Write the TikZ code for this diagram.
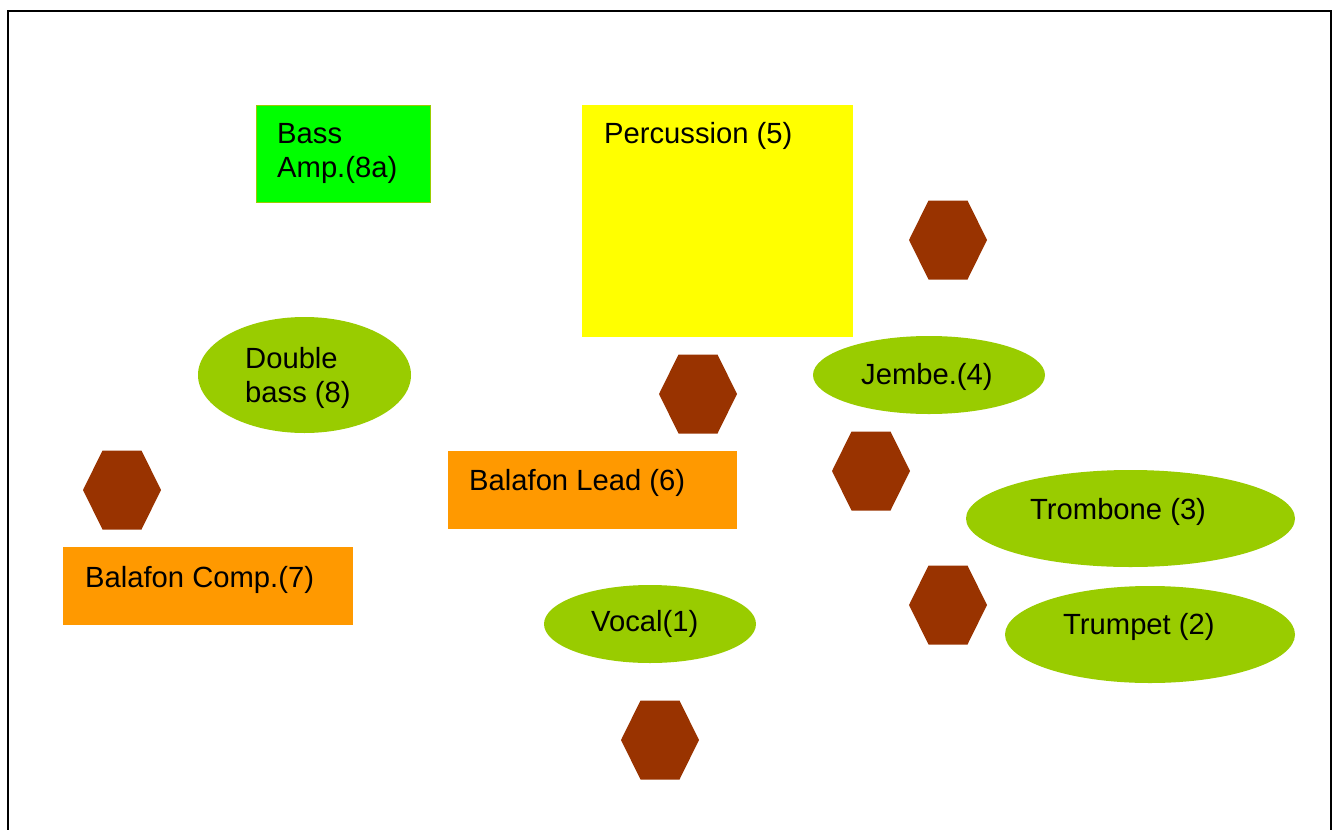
\documentclass[tikz,border=0pt]{standalone}
\usepackage{fontspec}
\setmainfont{Liberation Sans}
\usetikzlibrary{shapes.geometric}
\definecolor{hexbrown}{HTML}{993300}
\definecolor{olivegreen}{HTML}{99CC00}
\definecolor{brightgreen}{HTML}{00FF00}
\definecolor{orangefill}{HTML}{FF9900}
\definecolor{yellowfill}{HTML}{FFFF00}
\tikzset{
  box/.style={rectangle, inner sep=0pt, draw=none, anchor=north west},
  oval/.style={ellipse, inner sep=0pt, draw=none, fill=olivegreen},
  lbl/.style={anchor=base west, inner sep=0pt, font=\fontsize{29.2}{34}\selectfont, text=black},
  pics/hexa/.style={code={\fill[hexbrown] (-39,0) -- (-19.5,-39.5) -- (19.5,-39.5) -- (39,0) -- (19.5,39.5) -- (-19.5,39.5) -- cycle;}}
}
\begin{document}
\begin{tikzpicture}[x=1pt,y=-1pt]
\useasboundingbox (0,0) rectangle (1339,830);
\fill[white] (0,0) rectangle (1339,830);
\begin{scope}
\clip (0,0) rectangle (1339,830);
\draw[line width=2pt] (8,11) rectangle (1331,860);
\end{scope}

% rectangles
\node[box, fill=brightgreen, draw=olivegreen, line width=1pt, minimum width=174pt, minimum height=97pt] (amp) at (256,105) {};
\node[box, fill=yellowfill, minimum width=271pt, minimum height=232pt] (perc) at (582,105) {};
\node[box, fill=orangefill, minimum width=289pt, minimum height=78pt] (lead) at (448,451) {};
\node[box, fill=orangefill, minimum width=290pt, minimum height=78pt] (comp) at (63,547) {};

% ellipses
\node[oval, minimum width=213pt, minimum height=116pt] (dbass) at (304.5,375) {};
\node[oval, minimum width=232pt, minimum height=78pt] (jembe) at (929,375) {};
\node[oval, minimum width=329pt, minimum height=97pt] (tbone) at (1130.5,518.5) {};
\node[oval, minimum width=290pt, minimum height=97pt] (tpt) at (1150,634.5) {};
\node[oval, minimum width=212pt, minimum height=78pt] (vocal) at (650,624) {};

% hexagons
\pic (h1) at (948,240) {hexa};
\pic (h2) at (698,394) {hexa};
\pic (h3) at (122,490) {hexa};
\pic (h4) at (871,471) {hexa};
\pic (h5) at (948,605) {hexa};
\pic (h6) at (660,740) {hexa};

% labels
\node[lbl] (tamp1) at (277,143) {Bass};
\node[lbl] (tamp2) at (277,177) {Amp.(8a)};
\node[lbl] (tperc) at (604,143) {Percussion (5)};
\node[lbl] (tdb1) at (245,368) {Double};
\node[lbl] (tdb2) at (245,402) {bass (8)};
\node[lbl] (tjembe) at (861,384) {Jembe.(4)};
\node[lbl] (tlead) at (469,490) {Balafon Lead (6)};
\node[lbl] (ttbone) at (1030,519) {Trombone (3)};
\node[lbl] (tcomp) at (85,587) {Balafon Comp.(7)};
\node[lbl] (tvocal) at (591,631) {Vocal(1)};
\node[lbl] (ttpt) at (1063,634) {Trumpet (2)};
\end{tikzpicture}
\end{document}
